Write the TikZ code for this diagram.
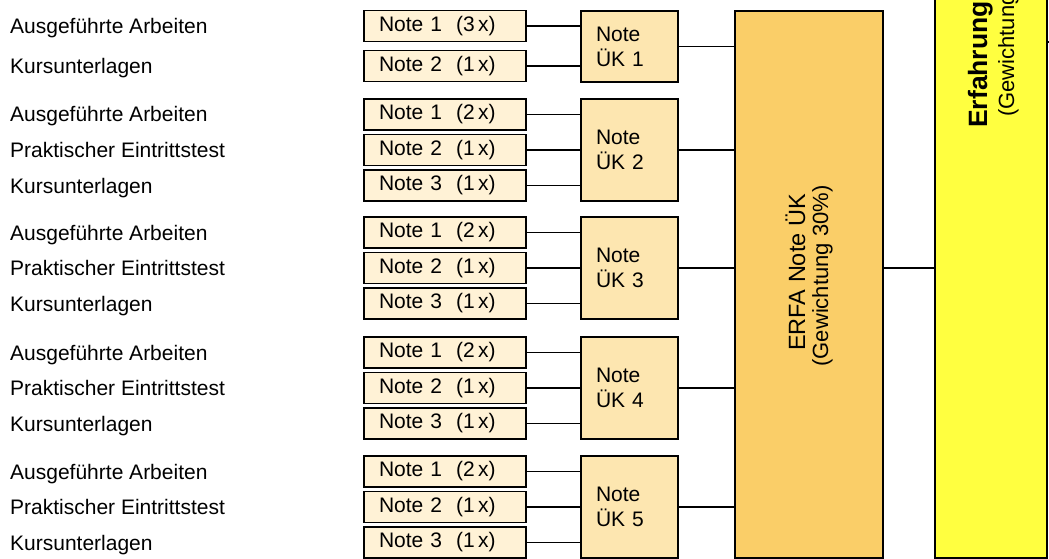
\documentclass[tikz,border=0pt]{standalone}
\usepackage{fontspec}
\setmainfont{Liberation Sans}
\usepackage{tikz}
\definecolor{notefill}{RGB}{255,242,214}
\definecolor{ukfill}{RGB}{253,230,176}
\definecolor{erfafill}{RGB}{250,206,104}
\definecolor{endfill}{RGB}{255,255,64}
\newcommand{\txtsize}{\fontsize{21}{25}\selectfont}

\begin{document}
\begin{tikzpicture}[x=1pt,y=-1pt,
  lbl/.style={anchor=base west,inner sep=0pt,font=\txtsize},
  nbox/.style={draw,line width=1.2pt,fill=notefill,minimum height=31pt,text width=132pt,
    inner xsep=15pt,inner ysep=0pt,align=left,font=\txtsize},
  ukbox/.style={draw,line width=2pt,fill=ukfill,text width=67pt,inner xsep=15pt,
    inner ysep=0pt,align=left,font=\txtsize},
  conn/.style={line width=1.8pt}]
  \clip (0,0) rectangle (1049,559);
  % big boxes on the right
  \node[draw,line width=2pt,fill=erfafill,minimum width=148pt,minimum height=547pt,inner sep=0pt] (erfa) at (809,284.5) {};
  \node[rotate=90,anchor=base,inner sep=0pt,font=\fontsize{23.5}{25}\selectfont] (erfa1) at (805,272.5) {ERFA Note ÜK};
  \node[rotate=90,anchor=base,inner sep=0pt,font=\fontsize{22}{25}\selectfont] (erfa2) at (828,276) {(Gewichtung 30\%)};
  \node[draw,line width=2pt,fill=endfill,minimum width=112pt,minimum height=568pt,inner sep=0pt] (erfn) at (991,274) {};
  \node[rotate=90,anchor=base west,inner sep=0pt,font=\fontsize{26.5}{28}\selectfont\bfseries] (erfn1) at (987,128) {Erfahrungsnote};
  \node[rotate=90,anchor=base west,inner sep=0pt,font=\fontsize{22}{25}\selectfont] (erfn2) at (1014,117) {(Gewichtung 70\%)};
  \coordinate (stub) at (1060,42);
  \draw[conn] (erfn.east |- stub) -- (stub);
  % group 1: two marks
  \node[ukbox,minimum height=71pt] (uk1) at (629.5,46.5) {Note\\ÜK 1};
  \node[lbl] (l11) at (10,33.5) {Ausgeführte Arbeiten};
  \node[nbox] (n11) at (445,26) {Note 1~~(3\,x)};
  \node[lbl] (l12) at (10,73.5) {Kursunterlagen};
  \node[nbox] (n12) at (445,66) {Note 2~~(1\,x)};
  \draw[conn] (n11.east) -- (n11.east -| uk1.west);
  \draw[conn] (n12.east) -- (n12.east -| uk1.west);
  \draw[conn] (uk1.east) -- (uk1.east -| erfa.west);
  % groups 2 to 5: three marks each
  \foreach \g/\ty in {2/99,3/217,4/337,5/456} {
    \node[ukbox,minimum height=102pt] (uk\g) at (629.5,\ty+51) {Note\\ÜK \g};
    \foreach \r/\w/\txt in {1/2/Ausgeführte Arbeiten,2/1/Praktischer Eintrittstest,3/1/Kursunterlagen} {
      \pgfmathsetmacro{\cy}{\ty+15.5+35.5*(\r-1)}
      \node[lbl] (l\g\r) at (10,\cy+7.5) {\txt};
      \node[nbox] (n\g\r) at (445,\cy) {Note \r~~(\w\,x)};
      \draw[conn] (n\g\r.east) -- (n\g\r.east -| uk\g.west);
    }
    \draw[conn] (uk\g.east) -- (uk\g.east -| erfa.west);
  }
  % ERFA to final mark
  \draw[conn] (erfa.east |- uk3.east) -- (erfn.west |- uk3.east);
\end{tikzpicture}
\end{document}
